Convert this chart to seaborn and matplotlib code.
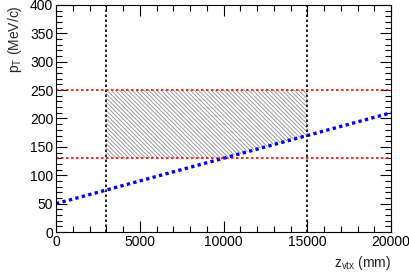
import matplotlib
from matplotlib import pyplot as plt
from matplotlib.ticker import MultipleLocator
import seaborn as sns
import numpy as np
import pandas as pd

sns.set_theme(style="white")
plt.rcParams['font.family'] = ['Liberation Sans', 'DejaVu Sans']
plt.rcParams['mathtext.fontset'] = 'custom'
plt.rcParams['mathtext.rm'] = 'Liberation Sans'
plt.rcParams['hatch.linewidth'] = 0.5
plt.rcParams['hatch.color'] = '#7a7a7a'

# data
z_vtx = [0, 20000]          # mm
pt_line = [50, 210]         # MeV/c
z_cuts = [3000, 15000]
pt_cuts = [130, 250]

df = pd.DataFrame({"z": z_vtx, "pt": pt_line})

fig = plt.figure(figsize=(4.09, 2.73), dpi=100)
ax = fig.add_axes([0.137, 0.150, 0.819, 0.832])

# hatched region between the cuts, above the line
zz = np.array(z_cuts, dtype=float)
zfine = np.sort(np.append(zz, np.interp(pt_cuts[0], pt_line, z_vtx)))
lower = np.maximum(pt_cuts[0], np.interp(zfine, z_vtx, pt_line))
ax.fill_between(zfine, lower, pt_cuts[1], facecolor="none",
                edgecolor="#7a7a7a", hatch="\\" * 8, linewidth=0)

for z in z_cuts:
    ax.axvline(z, color="black", linestyle=(0, (1.5, 1.5)), linewidth=1.2)
for p in pt_cuts:
    ax.axhline(p, color="red", linestyle=(0, (1.5, 1.5)), linewidth=1.2)

sns.lineplot(data=df, x="z", y="pt", ax=ax, color="blue",
             linestyle=(0, (1, 1)), linewidth=2.4)

ax.set_xlim(0, 20000)
ax.set_ylim(0, 400)
ax.xaxis.set_major_locator(MultipleLocator(5000))
ax.xaxis.set_minor_locator(MultipleLocator(1000))
ax.yaxis.set_major_locator(MultipleLocator(50))
ax.yaxis.set_minor_locator(MultipleLocator(10))
ax.tick_params(which="both", direction="in", top=True, right=True,
               bottom=True, left=True, labelsize=10, colors="black",
               pad=2)
ax.tick_params(which="major", length=8, width=0.8)
ax.tick_params(which="minor", length=4, width=0.8)
for s in ax.spines.values():
    s.set_color("black")
    s.set_linewidth(0.8)

ax.set_xlabel(r"z$_{\rm vtx}$ (mm)", fontsize=10, loc="right")
ax.set_ylabel(r"p$_{\rm T}$ (MeV/c)", fontsize=10, loc="top")

fig.savefig("out.png", dpi=100)
